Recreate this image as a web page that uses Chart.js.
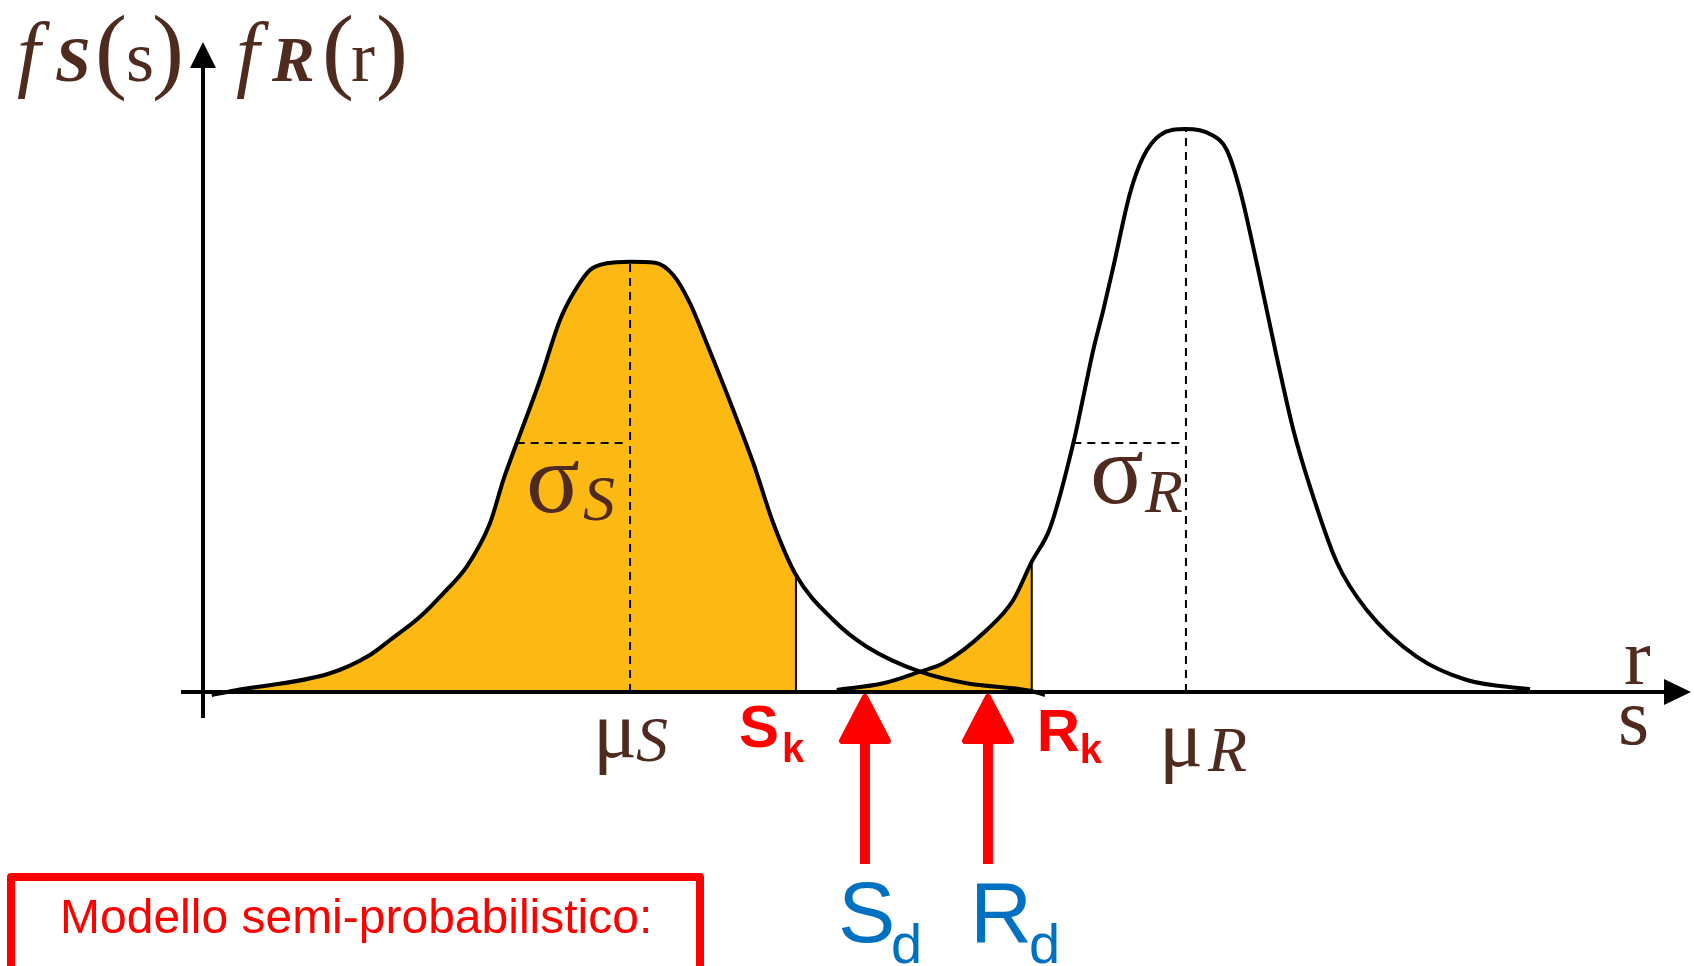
<!DOCTYPE html>
<html>
<head>
<meta charset="utf-8">
<script src="https://cdn.jsdelivr.net/npm/chart.js@4.4.0/dist/chart.umd.min.js"></script>
<style>
  html, body { margin: 0; padding: 0; background: #fff; }
  canvas { display: block; }
</style>
</head>
<body>
<canvas id="chart" width="1694" height="966"></canvas>
<script>
// stress S density curve (abscissa, ordinate)
const sCurveX = [0.58, 2.02, 8.47, 11.13, 12.47, 14.47, 16.02, 17.58, 19.13, 20.02, 20.91, 22.47, 23.8, 24.69, 25.8, 26.91, 28.47, 30.13, 31.35, 32.47, 33.58, 35.35, 36.69, 38.02, 39.53, 42.02, 44.25, 47.8, 50.91, 55.13, 56.13];
const sCurveY = [-0.5, 0.22, 3.12, 6.17, 8.67, 12.55, 16.45, 20.88, 28.12, 35.33, 41.45, 52.0, 62.0, 66.45, 70.33, 71.45, 71.72, 71.55, 69.5, 64.78, 58.12, 47.0, 38.12, 28.12, 19.5, 12.0, 7.55, 3.38, 1.45, 0.22, -0.5];

// resistance R density curve
const rCurveX = [42.25, 45.35, 47.8, 49.35, 52.25, 54.02, 55.25, 56.47, 58.02, 58.69, 59.35, 60.02, 60.69, 61.8, 62.69, 63.8, 65.53, 67.13, 68.25, 69.13, 70.25, 71.58, 72.69, 73.8, 75.58, 77.58, 80.91, 84.25, 88.47];
const rCurveY = [0.33, 1.45, 3.38, 4.78, 10.33, 15.33, 21.72, 27.33, 41.45, 49.22, 57.0, 63.67, 70.88, 83.12, 89.22, 92.83, 93.83, 93.0, 90.33, 83.67, 71.45, 55.88, 43.67, 34.22, 21.67, 13.67, 5.88, 2.0, 0.45];

// means, standard deviations, characteristic and design values [S, R]
const means = [28.47, 65.53];
const sigmas = [7.56, 7.51];
const sigmaLevel = 41.5;
const characteristic = [39.53, 55.25];
const design = [44.13, 52.33];

const W = 1694, H = 966;
const X0 = 203, XU = 15;   // pixel of s=0, px per unit
const Y0 = 692, YU = 6;    // pixel of f=0, px per unit

const brown = '#4e2a1f';
const orange = '#fcb813';
const red = '#ff0000';
const blue = '#0070c0';

const pts = (xs, ys) => xs.map((x, i) => ({ x: x, y: ys[i] }));
const sPts = pts(sCurveX, sCurveY);
const rPts = pts(rCurveX, rCurveY);
const yAt = (p, x) => p.find(q => q.x === x).y;
const peak = p => Math.max(...p.map(q => q.y));

const line = (data, extra) => Object.assign({
  type: 'line', data: data, borderColor: '#000', borderWidth: 2,
  pointRadius: 0, fill: false, order: 1
}, extra);

const datasets = [
  line(sPts, { borderWidth: 4, cubicInterpolationMode: 'monotone', order: 0 }),
  line(rPts, { borderWidth: 4, cubicInterpolationMode: 'monotone', order: 0 }),
  // shaded tails up to the characteristic values
  line(sPts.filter(p => p.x <= characteristic[0]), {
    borderWidth: 0, fill: 'origin', backgroundColor: orange,
    cubicInterpolationMode: 'monotone', order: 10
  }),
  line(rPts.filter(p => p.x <= characteristic[1]), {
    borderWidth: 0, fill: 'origin', backgroundColor: orange,
    cubicInterpolationMode: 'monotone', order: 10
  }),
  line([{ x: characteristic[0], y: 0 }, { x: characteristic[0], y: yAt(sPts, characteristic[0]) }]),
  line([{ x: characteristic[1], y: 0 }, { x: characteristic[1], y: yAt(rPts, characteristic[1]) }]),
  // mean and sigma guides
  line([{ x: means[0], y: 0 }, { x: means[0], y: peak(sPts) }], { borderDash: [8, 6] }),
  line([{ x: means[1], y: 0 }, { x: means[1], y: peak(rPts) }], { borderDash: [8, 6] }),
  line([{ x: means[0] - sigmas[0], y: sigmaLevel }, { x: means[0] - 0.2, y: sigmaLevel }], { borderDash: [8, 6] }),
  line([{ x: means[1] - sigmas[1], y: sigmaLevel }, { x: means[1] - 0.2, y: sigmaLevel }], { borderDash: [8, 6] })
];

function txt(ctx, s, font, color, x, y) {
  ctx.font = font;
  ctx.fillStyle = color;
  ctx.fillText(s, x, y);
}

const serif = '"Liberation Serif", "Times New Roman", serif';
const sans = '"Liberation Sans", Arial, sans-serif';

const overlay = {
  id: 'overlay',
  afterDatasetsDraw(chart) {
    const ctx = chart.ctx;
    const xs = chart.scales.x, ys = chart.scales.y;
    const ox = xs.getPixelForValue(0), oy = ys.getPixelForValue(0);
    ctx.save();
    ctx.textAlign = 'left';
    ctx.textBaseline = 'alphabetic';

    // axes with arrowheads
    ctx.strokeStyle = '#000';
    ctx.fillStyle = '#000';
    ctx.lineWidth = 4;
    ctx.beginPath();
    ctx.moveTo(181, oy); ctx.lineTo(1668, oy);
    ctx.moveTo(ox, 718); ctx.lineTo(ox, 64);
    ctx.stroke();
    ctx.beginPath();
    ctx.moveTo(1691, oy); ctx.lineTo(1664, oy - 13); ctx.lineTo(1664, oy + 13); ctx.closePath();
    ctx.moveTo(ox, 42); ctx.lineTo(ox - 13, 68); ctx.lineTo(ox + 13, 68); ctx.closePath();
    ctx.fill();

    // design value arrows
    ctx.strokeStyle = red;
    ctx.fillStyle = red;
    ctx.lineJoin = 'round';
    design.forEach(d => {
      const px = xs.getPixelForValue(d);
      ctx.lineWidth = 10;
      ctx.beginPath();
      ctx.moveTo(px, 730); ctx.lineTo(px, 864);
      ctx.stroke();
      ctx.lineWidth = 6;
      ctx.beginPath();
      ctx.moveTo(px, oy + 5); ctx.lineTo(px - 23, 741); ctx.lineTo(px + 23, 741); ctx.closePath();
      ctx.fill(); ctx.stroke();
    });

    // axis titles
    txt(ctx, 'f', 'italic 84px ' + serif, brown, 17, 81);
    txt(ctx, 'S', 'bold italic 64px ' + serif, brown, 55, 81);
    txt(ctx, '(', '96px ' + serif, brown, 95, 81);
    txt(ctx, 's', '72px ' + serif, brown, 126, 81);
    txt(ctx, ')', '96px ' + serif, brown, 152, 81);
    txt(ctx, 'f', 'italic 84px ' + serif, brown, 236, 81);
    txt(ctx, 'R', 'bold italic 64px ' + serif, brown, 272, 81);
    txt(ctx, '(', '96px ' + serif, brown, 322, 81);
    txt(ctx, 'r', '72px ' + serif, brown, 351, 81);
    txt(ctx, ')', '96px ' + serif, brown, 376, 81);
    txt(ctx, 'r', '80px ' + serif, brown, 1624, 684);
    txt(ctx, 's', '80px ' + serif, brown, 1618, 744);

    // means and sigmas
    const mS = xs.getPixelForValue(means[0]), mR = xs.getPixelForValue(means[1]);
    txt(ctx, '\u03bc', '82px ' + serif, brown, mS - 37, 757);
    txt(ctx, 'S', 'italic 64px ' + serif, brown, mS + 6, 761);
    txt(ctx, '\u03bc', '82px ' + serif, brown, mR - 27, 766);
    txt(ctx, 'R', 'italic 64px ' + serif, brown, mR + 22, 771);
    txt(ctx, '\u03c3', '100px ' + serif, brown, mS - 104, 512);
    txt(ctx, 'S', 'italic 64px ' + serif, brown, mS - 47, 520);
    txt(ctx, '\u03c3', '100px ' + serif, brown, mR - 96, 503);
    txt(ctx, 'R', 'italic 62px ' + serif, brown, mR - 41, 512);

    // characteristic values
    const kS = xs.getPixelForValue(characteristic[0]), kR = xs.getPixelForValue(characteristic[1]);
    txt(ctx, 'S', 'bold 60px ' + sans, red, kS - 57, 747);
    txt(ctx, 'k', 'bold 40px ' + sans, red, kS - 14, 762);
    txt(ctx, 'R', 'bold 60px ' + sans, red, kR + 5, 751);
    txt(ctx, 'k', 'bold 40px ' + sans, red, kR + 48, 763);

    // design values
    const dS = xs.getPixelForValue(design[0]), dR = xs.getPixelForValue(design[1]);
    txt(ctx, 'S', '86px ' + sans, blue, dS - 27, 942);
    txt(ctx, 'd', '56px ' + sans, blue, dS + 26, 963);
    txt(ctx, 'R', '86px ' + sans, blue, dR - 18, 942);
    txt(ctx, 'd', '56px ' + sans, blue, dR + 41, 963);

    // model box
    ctx.strokeStyle = red;
    ctx.lineWidth = 8;
    ctx.strokeRect(11, 877, 689, 200);
    txt(ctx, 'Modello semi-probabilistico:', '48px ' + sans, red, 60, 933);
    ctx.restore();
  }
};

new Chart(document.getElementById('chart'), {
  type: 'line',
  data: { datasets: datasets },
  options: {
    responsive: false,
    animation: false,
    devicePixelRatio: 1,
    parsing: true,
    layout: { padding: 0 },
    plugins: { legend: { display: false }, tooltip: { enabled: false } },
    scales: {
      x: { type: 'linear', display: false, min: -X0 / XU, max: (W - X0) / XU },
      y: { type: 'linear', display: false, min: -(H - Y0) / YU, max: Y0 / YU }
    }
  },
  plugins: [overlay]
});
</script>
</body>
</html>
